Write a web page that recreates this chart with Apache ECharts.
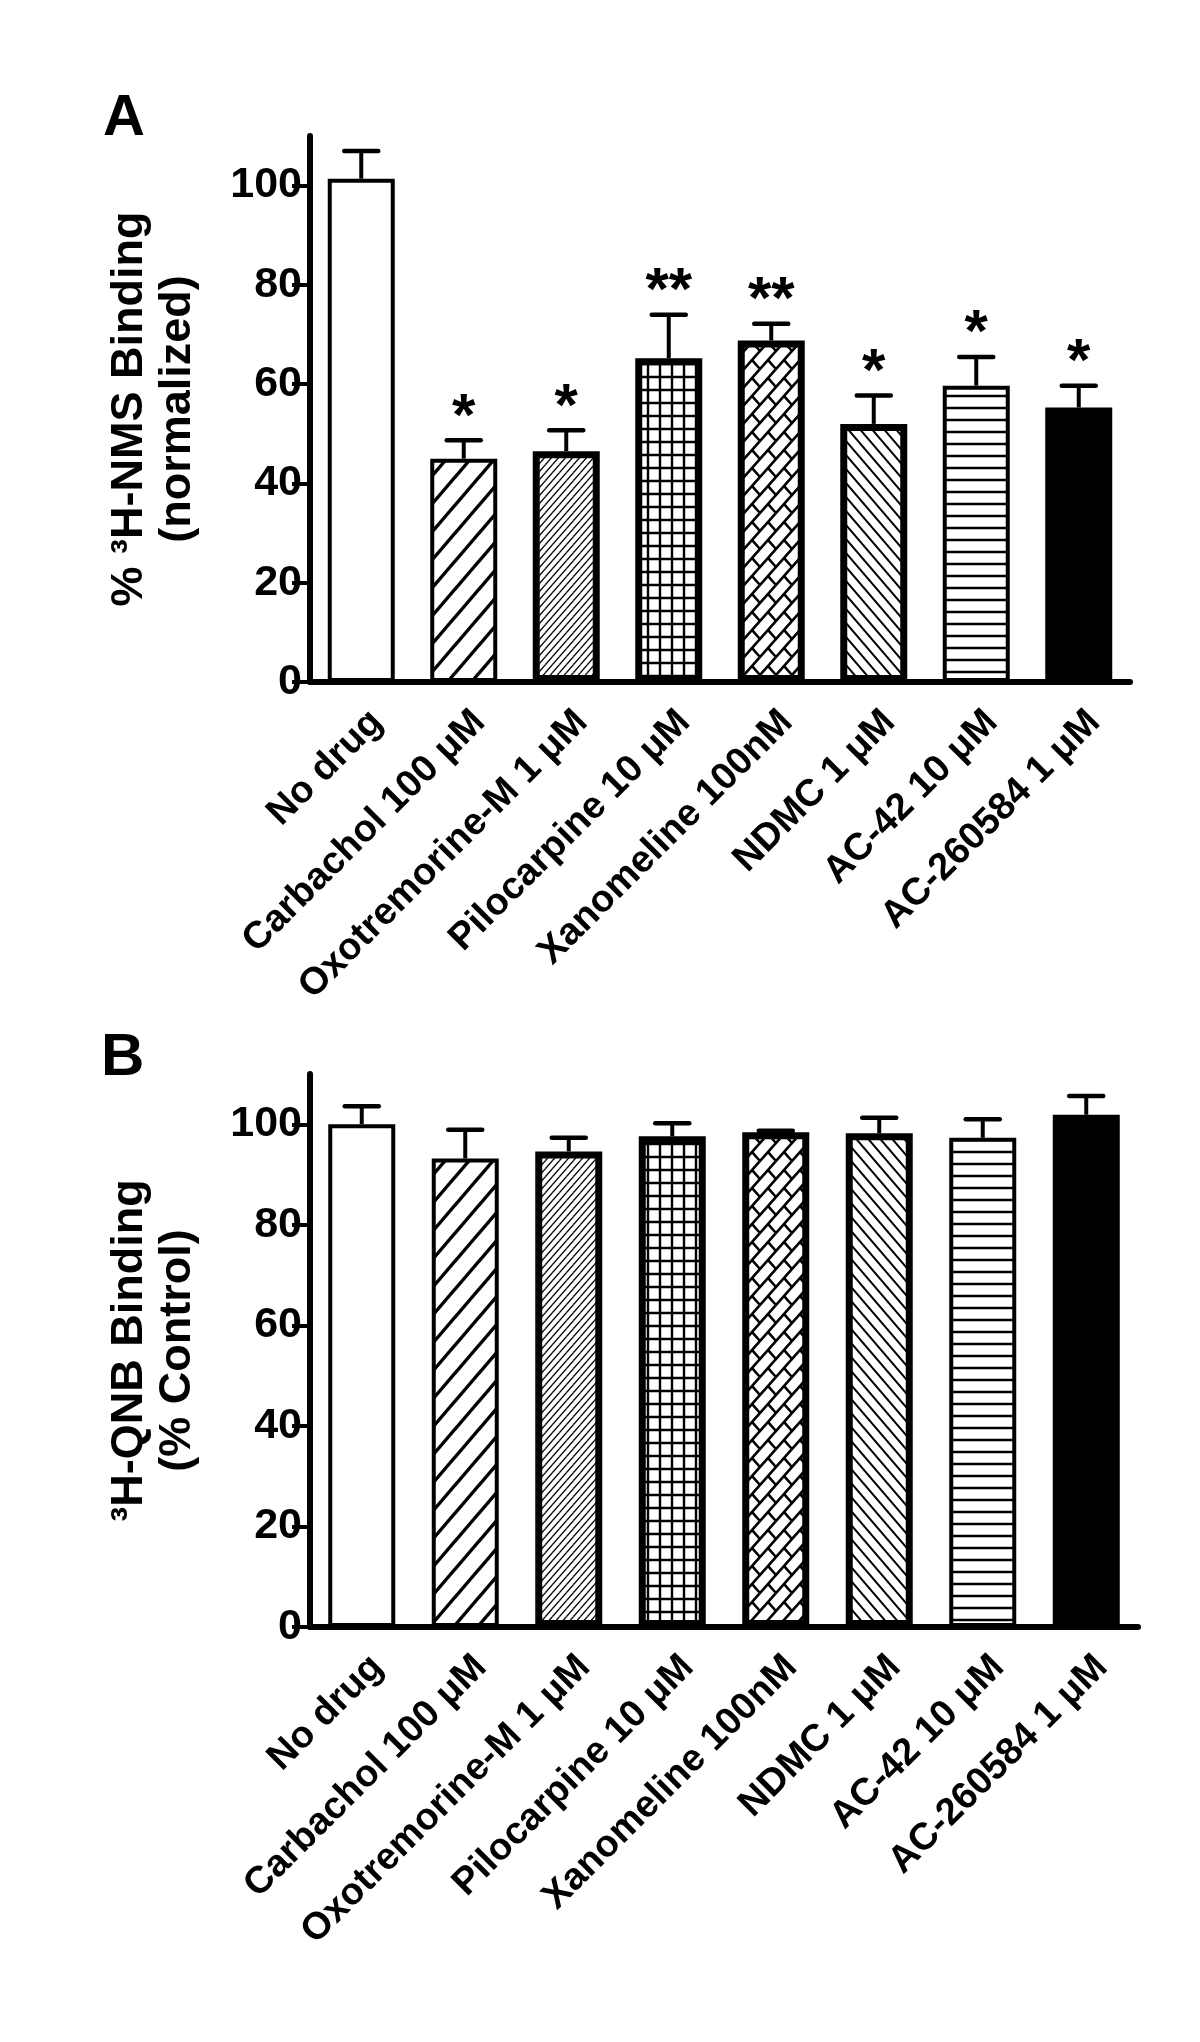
<!DOCTYPE html>
<html><head><meta charset="utf-8">
<script src="https://cdn.jsdelivr.net/npm/echarts@6/dist/echarts.min.js"></script>
<style>html,body{margin:0;padding:0;background:#fff}#c{width:1200px;height:2042px}</style>
</head><body><div id="c"></div>
<script>
// ---------- data ----------
const categories = ['No drug', 'Carbachol 100 μM', 'Oxotremorine-M 1 μM', 'Pilocarpine 10 μM',
  'Xanomeline 100nM', 'NDMC 1 μM', 'AC-42 10 μM', 'AC-260584 1 μM'];
const nmsMean = [101.4, 45.0, 46.5, 65.2, 68.8, 52.0, 59.7, 55.3];
const nmsErr  = [5.6, 3.7, 4.2, 8.8, 3.4, 5.7, 5.8, 4.4];
const nmsSig  = ['', '*', '*', '**', '**', '*', '*', '*'];
const qnbMean = [100.0, 93.2, 94.6, 97.6, 98.4, 98.2, 97.3, 101.9];
const qnbErr  = [3.6, 5.7, 2.7, 2.6, 0.3, 3.1, 3.7, 3.7];
const yTicks  = [0, 20, 40, 60, 80, 100];

// ---------- patterns ----------
// W x H tile; segments given in tile pixel coords; drawn periodically
function tile(W, H, segs, lw) {
  const c = document.createElement('canvas');
  c.width = W; c.height = H;
  const ctx = c.getContext('2d');
  ctx.fillStyle = '#fff'; ctx.fillRect(0, 0, W, H);
  ctx.strokeStyle = '#000'; ctx.lineWidth = lw; ctx.lineCap = 'square';
  ctx.beginPath();
  for (const s of segs) for (let i = -1; i <= 1; i++) for (let j = -1; j <= 1; j++) {
    ctx.moveTo(s[0] + i * W, s[1] + j * H); ctx.lineTo(s[2] + i * W, s[3] + j * H);
  }
  ctx.stroke();
  return { image: c, repeat: 'repeat' };
}
const FONT = '"Liberation Sans", Arial, sans-serif';
const fills = [
  '#ffffff',
  tile(24, 28, [[0, 28, 24, 0]], 3.4),
  tile(7, 8, [[0, 8, 7, 0]], 1.3),
  tile(12, 13, [[0, 0, 12, 0], [0, 0, 0, 13]], 2.4),
  tile(16, 18, [[0, 18, 16, 0], [0, 0, 8, 9]], 2.6),
  tile(12, 14, [[0, 0, 12, 14]], 2.0),
  tile(12, 12, [[0, 0, 12, 0]], 2.6),
  '#000000'
];
const borders = [4, 4, 7, 7, 7, 7, 4, 4];

function barSeries(idx, means) {
  return {
    type: 'bar', xAxisIndex: idx, yAxisIndex: idx, barWidth: 67, silent: true,
    data: means.map((v, i) => ({
      value: v,
      itemStyle: { color: fills[i], borderColor: '#000', borderWidth: borders[i] }
    }))
  };
}
function errSeries(idx, means, errs, sig) {
  return {
    type: 'custom', xAxisIndex: idx, yAxisIndex: idx, z: 5, silent: true,
    data: means.map((m, i) => [i, m, m + errs[i]]),
    renderItem(params, api) {
      const x = api.value(0);
      const p0 = api.coord([x, api.value(1)]);
      const p1 = api.coord([x, api.value(2)]);
      const ch = [
        { type: 'line', shape: { x1: p0[0], y1: p0[1], x2: p1[0], y2: p1[1] }, style: { stroke: '#000', lineWidth: 4 } },
        { type: 'line', shape: { x1: p1[0] - 17, y1: p1[1], x2: p1[0] + 17, y2: p1[1] }, style: { stroke: '#000', lineWidth: 4.5, lineCap: 'round' } }
      ];
      const s = sig ? sig[params.dataIndex] : '';
      if (s) ch.push({ type: 'text', style: { text: s, x: p1[0], y: p1[1] - 22, align: 'center', verticalAlign: 'middle', font: 'bold 60px ' + FONT, fill: '#000' } });
      return { type: 'group', children: ch };
    }
  };
}
function yAx(idx, name) {
  return {
    type: 'value', gridIndex: idx, min: 0, max: 110, interval: 20,
    axisLine: { show: true, lineStyle: { color: '#000', width: 6, cap: 'round' } },
    axisTick: { show: true, length: 18, customValues: yTicks, lineStyle: { color: '#000', width: 4 } },
    axisLabel: { customValues: yTicks, fontSize: 43, fontWeight: 'bold', color: '#000', margin: 8, fontFamily: FONT },
    splitLine: { show: false },
    name: name, nameLocation: 'middle', nameRotate: 90, nameGap: 108,
    nameTextStyle: { fontSize: 45, fontWeight: 'bold', color: '#000', lineHeight: 48, fontFamily: FONT }
  };
}
function xAx(idx) {
  return {
    type: 'category', gridIndex: idx, data: categories,
    axisLine: { show: true, lineStyle: { color: '#000', width: 6, cap: 'round' } },
    axisTick: { show: false },
    axisLabel: { rotate: 45, interval: 0, fontSize: 38, fontWeight: 'bold', color: '#000', margin: 50,
      padding: [0, -22, 0, 0], fontFamily: FONT }
  };
}

const chart = echarts.init(document.getElementById('c'), null, { renderer: 'canvas' });
chart.setOption({
  backgroundColor: '#fff',
  animation: false,
  grid: [
    { left: 310, top: 136, width: 820, height: 546, outerBoundsMode: 'none' },
    { left: 310, top: 1074, width: 828, height: 553, outerBoundsMode: 'none' }
  ],
  xAxis: [xAx(0), xAx(1)],
  yAxis: [yAx(0, '% ³H-NMS Binding\n(normalized)'), yAx(1, '³H-QNB Binding\n(% Control)')],
  graphic: [
    { type: 'text', left: 103, top: 90, style: { text: 'A', font: 'bold 58px ' + FONT, fill: '#000' } },
    { type: 'text', left: 101, top: 1028, style: { text: 'B', font: 'bold 60px ' + FONT, fill: '#000' } }
  ],
  series: [
    barSeries(0, nmsMean), errSeries(0, nmsMean, nmsErr, nmsSig),
    barSeries(1, qnbMean), errSeries(1, qnbMean, qnbErr, null)
  ]
});
</script></body></html>
